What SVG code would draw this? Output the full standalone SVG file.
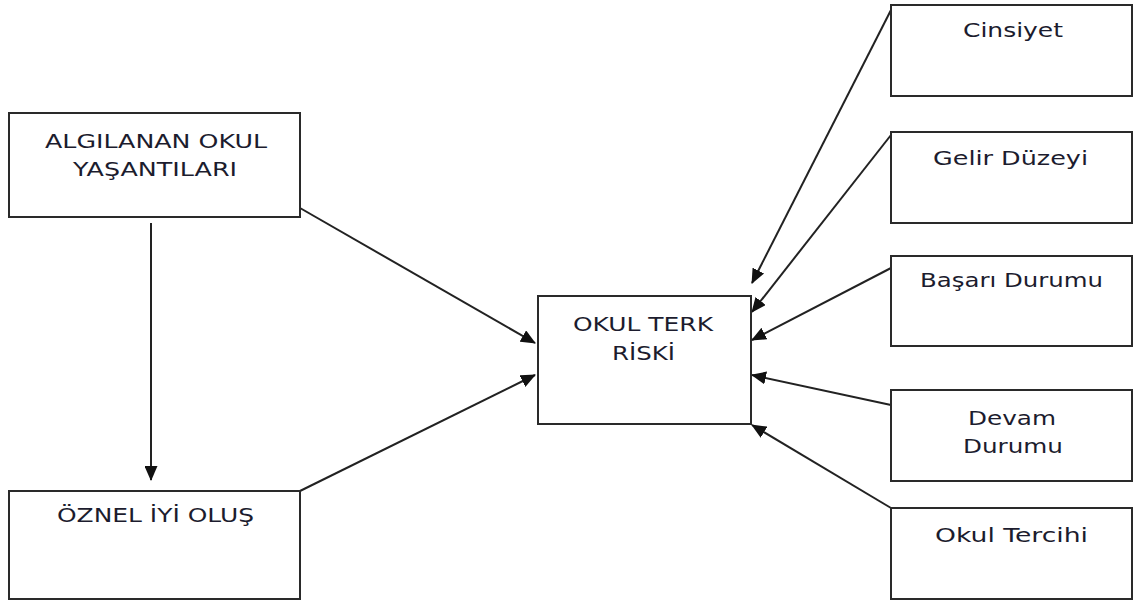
<svg xmlns="http://www.w3.org/2000/svg" width="1135" height="601" viewBox="0 0 1135 601">
<style>
.box{fill:#fff;stroke:#2a2a2a;stroke-width:2}
.lbl{font-family:"DejaVu Sans","Liberation Sans",sans-serif;font-size:20px;fill:#1c1c2e}
.con{stroke:#222;stroke-width:2;fill:none;marker-end:url(#ah)}
</style>
<defs>
<marker id="ah" viewBox="0 0 15 13" refX="14" refY="6.5" markerWidth="15" markerHeight="13" markerUnits="userSpaceOnUse" orient="auto">
<path d="M0,0 L15,6.5 L0,13 z" fill="#111"/>
</marker>
</defs>
<rect width="1135" height="601" fill="#fff"/>
<g id="connectors">
<line class="con" x1="151" y1="223" x2="151" y2="480"/>
<line class="con" x1="300" y1="208" x2="535" y2="343"/>
<line class="con" x1="300" y1="491" x2="535" y2="375"/>
<line class="con" x1="891" y1="10" x2="752" y2="283"/>
<line class="con" x1="891" y1="135" x2="752" y2="312"/>
<line class="con" x1="891" y1="268" x2="752" y2="340"/>
<line class="con" x1="891" y1="405" x2="752" y2="375"/>
<line class="con" x1="891" y1="508" x2="752" y2="425"/>
</g>
<g id="algilanan">
<rect class="box" x="9" y="113" width="291" height="104"/>
<text class="lbl" x="45" y="148" textLength="222" lengthAdjust="spacingAndGlyphs">ALGILANAN OKUL</text>
<text class="lbl" x="73" y="176" textLength="164" lengthAdjust="spacingAndGlyphs">YAŞANTILARI</text>
</g>
<g id="oznel">
<rect class="box" x="9" y="491" width="291" height="108"/>
<text class="lbl" x="57" y="522" textLength="197" lengthAdjust="spacingAndGlyphs">ÖZNEL İYİ OLUŞ</text>
</g>
<g id="okulterk">
<rect class="box" x="538" y="296" width="213" height="128"/>
<text class="lbl" x="573" y="331" textLength="140" lengthAdjust="spacingAndGlyphs">OKUL TERK</text>
<text class="lbl" x="612" y="360" textLength="63" lengthAdjust="spacingAndGlyphs">RİSKİ</text>
</g>
<g id="cinsiyet">
<rect class="box" x="891" y="5" width="241" height="91"/>
<text class="lbl" x="963" y="37" textLength="100" lengthAdjust="spacingAndGlyphs">Cinsiyet</text>
</g>
<g id="gelir">
<rect class="box" x="891" y="132" width="241" height="91"/>
<text class="lbl" x="933" y="165" textLength="155" lengthAdjust="spacingAndGlyphs">Gelir Düzeyi</text>
</g>
<g id="basari">
<rect class="box" x="891" y="256" width="241" height="90"/>
<text class="lbl" x="920" y="287" textLength="183" lengthAdjust="spacingAndGlyphs">Başarı Durumu</text>
</g>
<g id="devam">
<rect class="box" x="891" y="390" width="241" height="91"/>
<text class="lbl" x="968" y="425" textLength="88" lengthAdjust="spacingAndGlyphs">Devam</text>
<text class="lbl" x="963" y="453" textLength="100" lengthAdjust="spacingAndGlyphs">Durumu</text>
</g>
<g id="tercih">
<rect class="box" x="891" y="508" width="241" height="91"/>
<text class="lbl" x="935" y="542" textLength="153" lengthAdjust="spacingAndGlyphs">Okul Tercihi</text>
</g>
</svg>
